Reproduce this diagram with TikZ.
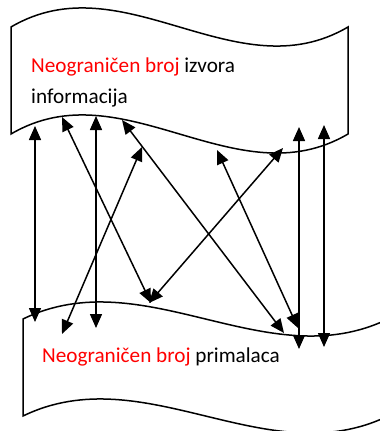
\documentclass[tikz,border=0pt]{standalone}
\usepackage{fontspec}
\setmainfont{Carlito}
\usetikzlibrary{arrows.meta}
\definecolor{hilite}{RGB}{255,0,0}
\tikzset{
  tape/.style={draw=black, line width=1.5pt, line join=miter},
  link/.style={line width=1.5pt, {Triangle[length=14pt,width=12pt]}-{Triangle[length=14pt,width=12pt]}},
  label/.style={inner sep=0pt, anchor=base west, font=\fontsize{21.2}{31}\selectfont},
}
\begin{document}
\begin{tikzpicture}[x=1pt,y=-1pt]
\useasboundingbox (0,0) rectangle (380,431);
\clip (0,0) rectangle (380,431);

% upper punched tape: sources
\draw[tape] (11,27) .. controls (123.3,-39) and (235.7,93) .. (348,27)
  -- (348,134) .. controls (235.7,200) and (123.3,68) .. (11,134) -- cycle;

% lower punched tape: receivers (runs past the right edge)
\draw[tape] (23,319) .. controls (144.7,260) and (266.3,378) .. (388,319)
  -- (388,416) .. controls (266.3,475) and (144.7,357) .. (23,416) -- cycle;

% labels
\node[label] (src1) at (31,72) {\textcolor{hilite}{Neograničen broj} izvora};
\node[label] (src2) at (31,103) {informacija};
\node[label] (dst) at (42,362) {\textcolor{hilite}{Neograničen broj} primalaca};

% arrow end points
\coordinate (a1) at (35,126);  \coordinate (a2) at (35,322);
\coordinate (b1) at (62,117);  \coordinate (b2) at (151,303);
\coordinate (c1) at (96,116);  \coordinate (c2) at (96,328);
\coordinate (d1) at (122,120); \coordinate (d2) at (284,333);
\coordinate (e1) at (142,147); \coordinate (e2) at (62,334);
\coordinate (f1) at (217,150); \coordinate (f2) at (298,328);
\coordinate (g1) at (283,148); \coordinate (g2) at (149,303);
\coordinate (h1) at (299,127); \coordinate (h2) at (299,349);
\coordinate (i1) at (324,125); \coordinate (i2) at (324,347);

% two-way links between the tapes
\foreach \p in {a,b,c,d,e,f,g,h,i}
  \draw[link] (\p1) -- (\p2);
\end{tikzpicture}
\end{document}
